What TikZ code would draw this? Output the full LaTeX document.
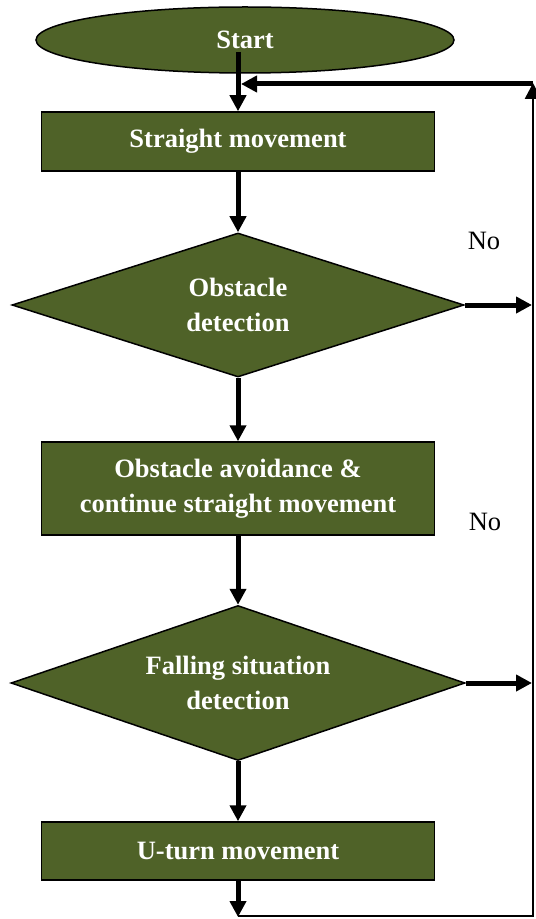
\documentclass[tikz,border=0pt]{standalone}
\usepackage{fontspec}
\setmainfont{Liberation Serif}
\usetikzlibrary{shapes.geometric,arrows.meta}

\newlength{\du}
\setlength{\du}{0.5pt}
\definecolor{olivefill}{RGB}{79,98,40}

\tikzset{
  flowtext/.style={text=white,font=\fontsize{13.25}{17.5}\selectfont\bfseries,align=center,inner sep=0pt},
  termbox/.style={ellipse,draw,fill=olivefill,line width=1.5\du,flowtext},
  movebox/.style={rectangle,draw,fill=olivefill,line width=1.5\du,minimum width=393\du,flowtext},
  testbox/.style={diamond,aspect=3,draw,fill=olivefill,line width=1.5\du,flowtext},
  flowline/.style={line width=5\du,-{Triangle[width=8pt,length=8pt]}},
  loopline/.style={line width=2.5\du,-{Triangle[width=8pt,length=8pt]}},
  nolabel/.style={font=\fontsize{13.25}{16}\selectfont,inner sep=0pt}
}

\begin{document}
\begin{tikzpicture}
\pgftransformxscale{1.000000}
\pgftransformyscale{-1.000000}
\useasboundingbox (0\du,0\du) rectangle (535\du,919\du);

\node[termbox,minimum width=418\du,minimum height=66\du] (start) at (245\du,40\du) {Start};
\node[movebox,minimum height=59\du] (straight) at (238\du,141.5\du) {Straight movement};
\node[testbox,minimum width=452\du,minimum height=144\du] (obst) at (238\du,305\du) {Obstacle\\detection};
\node[movebox,minimum height=93\du] (avoid) at (238\du,488.5\du) {Obstacle avoidance \&\\continue straight movement};
\node[testbox,minimum width=454\du,minimum height=155\du] (fall) at (238\du,683\du) {Falling situation\\detection};
\node[movebox,minimum height=58\du] (uturn) at (238\du,851\du) {U-turn movement};

\node[nolabel] (no1) at (484\du,241\du) {No};
\node[nolabel] (no2) at (485\du,522\du) {No};

\coordinate (s0) at (238\du,52\du);
\coordinate (uend) at (238\du,917\du);
\coordinate (obstno) at (532\du,305\du);
\coordinate (fallno) at (532\du,683\du);
\coordinate (loopbr) at (533\du,916\du);
\coordinate (looptr) at (533\du,84\du);
\coordinate (loopin) at (241\du,84\du);

% main flow
\draw[flowline] (s0) -- (straight.north);
\draw[flowline] (straight.south) -- (obst.north);
\draw[flowline] (obst.south) -- (avoid.north);
\draw[flowline] (avoid.south) -- (fall.north);
\draw[flowline] (fall.south) -- (uturn.north);
\draw[flowline] (uturn.south) -- (uend);

% no branches
\draw[flowline] (obst.east) -- (obstno);
\draw[flowline] (fall.east) -- (fallno);

% loop back
\draw[loopline] (238\du,916\du) -- (loopbr) -- ([yshift=-1\du]looptr);
\draw[flowline] (looptr) -- (loopin);
\end{tikzpicture}
\end{document}
